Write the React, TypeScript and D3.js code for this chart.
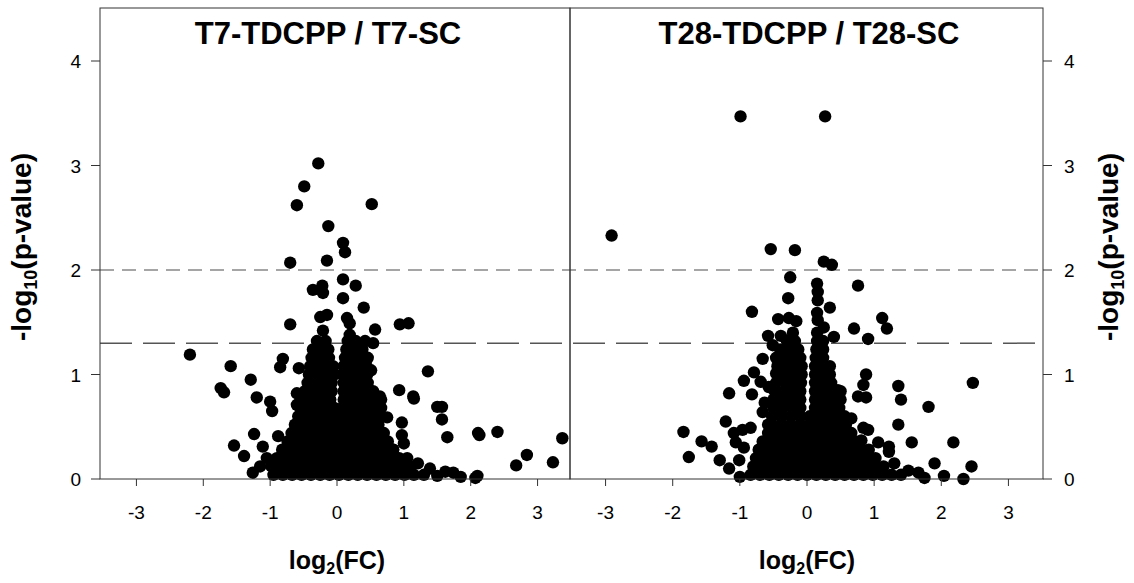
import React from "react";
import * as d3 from "d3";

const xTicks = [-3, -2, -1, 0, 1, 2, 3];
const yTicks = [0, 1, 2, 3, 4];
const panelTitles = ["T7-TDCPP / T7-SC", "T28-TDCPP / T28-SC"];
const cutoffs = [2, 1.3];

// T7: points standing out of the main cloud (log2FC, -log10 p)
const t7Outliers: [number, number][] = [
  [-0.28, 3.02], [-0.49, 2.8], [-0.6, 2.62], [0.52, 2.63], [-0.13, 2.42], [0.09, 2.26], [0.12, 2.17],
  [-0.7, 2.07], [-0.15, 2.09], [0.09, 1.91], [-0.36, 1.81], [-0.22, 1.85], [-0.21, 1.78], [0.28, 1.85],
  [0.09, 1.73], [0.4, 1.64], [-0.7, 1.48], [-0.25, 1.55], [-0.15, 1.57], [0.15, 1.54], [0.19, 1.49],
  [0.57, 1.43], [0.94, 1.48], [1.07, 1.49], [-0.21, 1.42], [0.19, 1.38], [0.54, 1.3],
  [-2.2, 1.19], [-1.59, 1.08], [-1.74, 0.87], [-1.69, 0.83], [-1.29, 0.95], [-1.2, 0.78], [-1.0, 0.74],
  [-0.97, 0.65], [-0.81, 1.15], [-0.85, 1.07], [-0.57, 1.06], [-1.24, 0.43], [-1.54, 0.32], [-1.39, 0.22],
  [-0.88, 0.41], [-1.11, 0.31], [-1.26, 0.06], [-0.6, 0.82], [-0.6, 0.71], [-1.05, 0.2], [-1.15, 0.12],
  [0.39, 1.09], [0.51, 1.04], [1.36, 1.03], [0.93, 0.85], [1.14, 0.79], [1.15, 0.77], [1.5, 0.69],
  [1.57, 0.69], [1.57, 0.57], [0.97, 0.54], [0.97, 0.42], [1.0, 0.34], [1.65, 0.4], [2.11, 0.44],
  [2.13, 0.42], [2.4, 0.45], [3.37, 0.39], [2.84, 0.23], [2.68, 0.13], [3.23, 0.16], [1.21, 0.15],
  [1.05, 0.2], [1.39, 0.1], [1.62, 0.07], [1.74, 0.06], [2.07, 0.01], [0.64, 0.79], [0.75, 0.59],
  [0.84, 0.28], [2.1, 0.03], [1.5, 0.03], [1.85, 0.02],
];

// T7: dense core, one row per -log10 p level with its log2FC values
const t7Core: [number, number[]][] = [
  [0.04, [-0.95, -0.81, -0.67, -0.53, -0.39, -0.25, -0.11, 0.03, 0.17, 0.31, 0.45, 0.59, 0.73, 0.87, 1.01, 1.15, 1.3]],
  [0.12, [-0.98, -0.86, -0.72, -0.58, -0.44, -0.3, -0.16, -0.02, 0.12, 0.26, 0.4, 0.54, 0.68, 0.82, 0.96, 1.1]],
  [0.2, [-0.9, -0.76, -0.62, -0.48, -0.34, -0.2, -0.06, 0.08, 0.22, 0.36, 0.5, 0.64, 0.78, 0.93]],
  [0.28, [-0.82, -0.68, -0.55, -0.41, -0.27, -0.13, 0.01, 0.15, 0.29, 0.43, 0.57, 0.71, 0.84]],
  [0.36, [-0.74, -0.6, -0.46, -0.32, -0.18, -0.04, 0.1, 0.24, 0.38, 0.52, 0.66, 0.76]],
  [0.44, [-0.68, -0.54, -0.4, -0.26, -0.12, 0.02, 0.16, 0.3, 0.44, 0.58, 0.7]],
  [0.52, [-0.63, -0.49, -0.35, -0.21, -0.07, 0.07, 0.21, 0.35, 0.49, 0.62]],
  [0.6, [-0.58, -0.45, -0.31, -0.17, -0.03, 0.11, 0.25, 0.39, 0.53, 0.62]],
  [0.68, [-0.55, -0.41, -0.27, -0.14, -0.04, 0.08, 0.2, 0.32, 0.44, 0.56, 0.66]],
  [0.76, [-0.52, -0.38, -0.24, -0.1, 0.1, 0.2, 0.32, 0.44, 0.56, 0.66]],
  [0.84, [-0.48, -0.34, -0.2, -0.08, 0.1, 0.22, 0.34, 0.46, 0.54]],
  [0.92, [-0.44, -0.3, -0.17, -0.08, 0.1, 0.22, 0.34, 0.46]],
  [1.0, [-0.42, -0.28, -0.15, -0.04, 0.08, 0.2, 0.32, 0.45]],
  [1.08, [-0.4, -0.27, -0.14, -0.06, 0.1, 0.2, 0.32, 0.44]],
  [1.16, [-0.38, -0.25, -0.12, 0.12, 0.24, 0.36, 0.46]],
  [1.24, [-0.36, -0.24, -0.13, 0.14, 0.26, 0.38]],
  [1.32, [-0.3, -0.17, 0.16, 0.28, 0.42]],
];

// T28: points standing out of the main cloud
const t28Outliers: [number, number][] = [
  [-0.99, 3.47], [0.27, 3.47], [-2.91, 2.33], [-0.54, 2.2], [-0.18, 2.19], [0.25, 2.08], [0.37, 2.05],
  [-0.25, 1.93], [0.76, 1.85], [0.15, 1.87], [0.16, 1.79], [0.16, 1.71], [-0.28, 1.73], [0.34, 1.64],
  [-0.82, 1.6], [-0.43, 1.53], [-0.27, 1.54], [-0.16, 1.51], [0.15, 1.59], [0.16, 1.52], [0.25, 1.45],
  [1.12, 1.54], [1.19, 1.44], [0.7, 1.44], [0.4, 1.36], [0.91, 1.34], [-0.58, 1.37], [-0.39, 1.37],
  [-0.21, 1.4], [0.15, 1.4],
  [-0.51, 1.28], [-0.66, 1.15], [-0.79, 1.02], [-0.94, 0.94], [-1.16, 0.82], [-0.82, 0.81], [-0.69, 0.93],
  [-0.57, 0.88], [-0.46, 1.01], [-0.63, 0.73], [-0.66, 0.64], [-1.21, 0.55], [-1.84, 0.45], [-1.57, 0.36],
  [-1.42, 0.31], [-1.76, 0.21], [-1.3, 0.18], [-1.09, 0.44], [-0.96, 0.47], [-0.84, 0.49], [-1.06, 0.35],
  [-0.94, 0.3], [-1.16, 0.1], [-1.01, 0.18], [-1.0, 0.02], [-0.58, 0.52],
  [0.88, 1.0], [0.84, 0.9], [0.76, 0.79], [0.88, 0.78], [1.36, 0.89], [1.4, 0.76], [1.81, 0.69],
  [2.47, 0.92], [1.36, 0.52], [0.84, 0.49], [0.91, 0.47], [0.81, 0.37], [1.06, 0.35], [1.22, 0.31],
  [1.22, 0.26], [1.56, 0.35], [2.18, 0.35], [1.3, 0.15], [1.51, 0.08], [1.66, 0.06], [1.75, 0.01],
  [1.9, 0.15], [2.45, 0.12], [2.33, 0.0], [2.04, 0.03], [0.66, 0.58], [0.46, 0.85], [0.31, 0.85],
];

// T28: dense core
const t28Core: [number, number[]][] = [
  [0.04, [-0.84, -0.7, -0.56, -0.42, -0.28, -0.14, 0.0, 0.14, 0.28, 0.42, 0.56, 0.7, 0.84, 0.98, 1.12, 1.26, 1.4]],
  [0.12, [-0.8, -0.66, -0.52, -0.38, -0.24, -0.1, 0.04, 0.18, 0.32, 0.46, 0.6, 0.74, 0.88, 1.02, 1.14]],
  [0.2, [-0.76, -0.62, -0.48, -0.34, -0.2, -0.06, 0.08, 0.22, 0.36, 0.5, 0.64, 0.78, 0.92, 1.02]],
  [0.28, [-0.72, -0.58, -0.44, -0.3, -0.16, -0.02, 0.12, 0.26, 0.4, 0.54, 0.68, 0.8, 0.92]],
  [0.36, [-0.66, -0.52, -0.38, -0.24, -0.1, 0.04, 0.18, 0.32, 0.46, 0.6, 0.72]],
  [0.44, [-0.58, -0.45, -0.31, -0.17, -0.03, 0.11, 0.25, 0.39, 0.53, 0.66]],
  [0.52, [-0.52, -0.38, -0.24, -0.1, 0.04, 0.18, 0.32, 0.46, 0.58]],
  [0.6, [-0.52, -0.38, -0.24, -0.1, 0.04, 0.16, 0.3, 0.44, 0.56]],
  [0.68, [-0.5, -0.36, -0.22, -0.1, 0.12, 0.24, 0.36, 0.48]],
  [0.76, [-0.5, -0.37, -0.24, -0.1, 0.12, 0.22, 0.36, 0.5]],
  [0.84, [-0.48, -0.34, -0.2, -0.1, 0.12, 0.24, 0.38, 0.5]],
  [0.92, [-0.46, -0.32, -0.18, -0.09, 0.12, 0.24, 0.36]],
  [1.0, [-0.44, -0.3, -0.17, -0.08, 0.12, 0.22, 0.34]],
  [1.08, [-0.44, -0.31, -0.18, -0.08, 0.12, 0.24, 0.34]],
  [1.16, [-0.46, -0.33, -0.2, -0.1, 0.13, 0.24]],
  [1.24, [-0.4, -0.26, -0.13, 0.14, 0.24]],
  [1.32, [-0.3, -0.18, 0.15, 0.24]],
];

const W = 1134;
const H = 583;
const top = 8;
const bottom = 479;
const font = "'Liberation Sans', Arial, sans-serif";

const flatten = (core: [number, number[]][], extra: [number, number][]) =>
  core.flatMap(([y, xs]) => xs.map((x) => [x, y] as [number, number])).concat(extra);

const panels = [
  { title: panelTitles[0], titleX: 328, points: flatten(t7Core, t7Outliers), left: 100, right: 570, range: [103, 571] },
  { title: panelTitles[1], titleX: 809, points: flatten(t28Core, t28Outliers), left: 570, right: 1043, range: [572, 1042] },
];

const yScale = d3.scaleLinear().domain([0, 4.5]).range([bottom, bottom - 4.5 * 104.5]);

function YLabel({ x }: { x: number }) {
  return (
    <text
      transform={`translate(${x},${yScale(2.22)}) rotate(-90)`}
      textAnchor="middle"
      fontFamily={font}
      fontWeight="bold"
      fontSize={28}
    >
      -log<tspan fontSize={18} dy={6}>10</tspan>
      <tspan dy={-6}>(p-value)</tspan>
    </text>
  );
}

export default function App() {
  return (
    <svg width={W} height={H} style={{ position: "absolute", left: 0, top: 0, background: "#fff" }}>
      {/* cutoff lines across both panels */}
      <line x1={100} x2={1043} y1={yScale(cutoffs[0])} y2={yScale(cutoffs[0])} stroke="#888" strokeWidth={1.5} strokeDasharray="14 8" />
      <line x1={100} x2={1043} y1={yScale(cutoffs[1])} y2={yScale(cutoffs[1])} stroke="#555" strokeWidth={1.5} strokeDasharray="32 11" />

      {panels.map((p, i) => {
        const x = d3.scaleLinear().domain([-3.5, 3.5]).range(p.range);
        return (
          <g key={i}>
            {p.points.map(([fx, py], j) => (
              <circle key={j} cx={x(fx)} cy={yScale(py)} r={6.2} fill="#000" />
            ))}
            <rect x={p.left} y={top} width={p.right - p.left} height={bottom - top} fill="none" stroke="#333" strokeWidth={1} />
            {xTicks.map((t) => (
              <g key={t}>
                <line x1={x(t)} x2={x(t)} y1={bottom} y2={bottom + 7} stroke="#333" />
                <text x={x(t)} y={bottom + 40} textAnchor="middle" fontFamily={font} fontSize={19}>
                  {t}
                </text>
              </g>
            ))}
            <text x={p.titleX} y={44} textAnchor="middle" fontFamily={font} fontWeight="bold" fontSize={31}>
              {p.title}
            </text>
            <text x={x(0)} y={569} textAnchor="middle" fontFamily={font} fontWeight="bold" fontSize={25}>
              log<tspan fontSize={16} dy={5}>2</tspan>
              <tspan dy={-5}>(FC)</tspan>
            </text>
          </g>
        );
      })}

      {yTicks.map((t) => (
        <g key={t}>
          <line x1={91} x2={100} y1={yScale(t)} y2={yScale(t)} stroke="#333" />
          <text x={81} y={yScale(t) + 7} textAnchor="end" fontFamily={font} fontSize={19}>
            {t}
          </text>
          <line x1={1043} x2={1052} y1={yScale(t)} y2={yScale(t)} stroke="#333" />
          <text x={1064} y={yScale(t) + 7} textAnchor="start" fontFamily={font} fontSize={19}>
            {t}
          </text>
        </g>
      ))}
      <YLabel x={31} />
      <YLabel x={1118} />
    </svg>
  );
}
